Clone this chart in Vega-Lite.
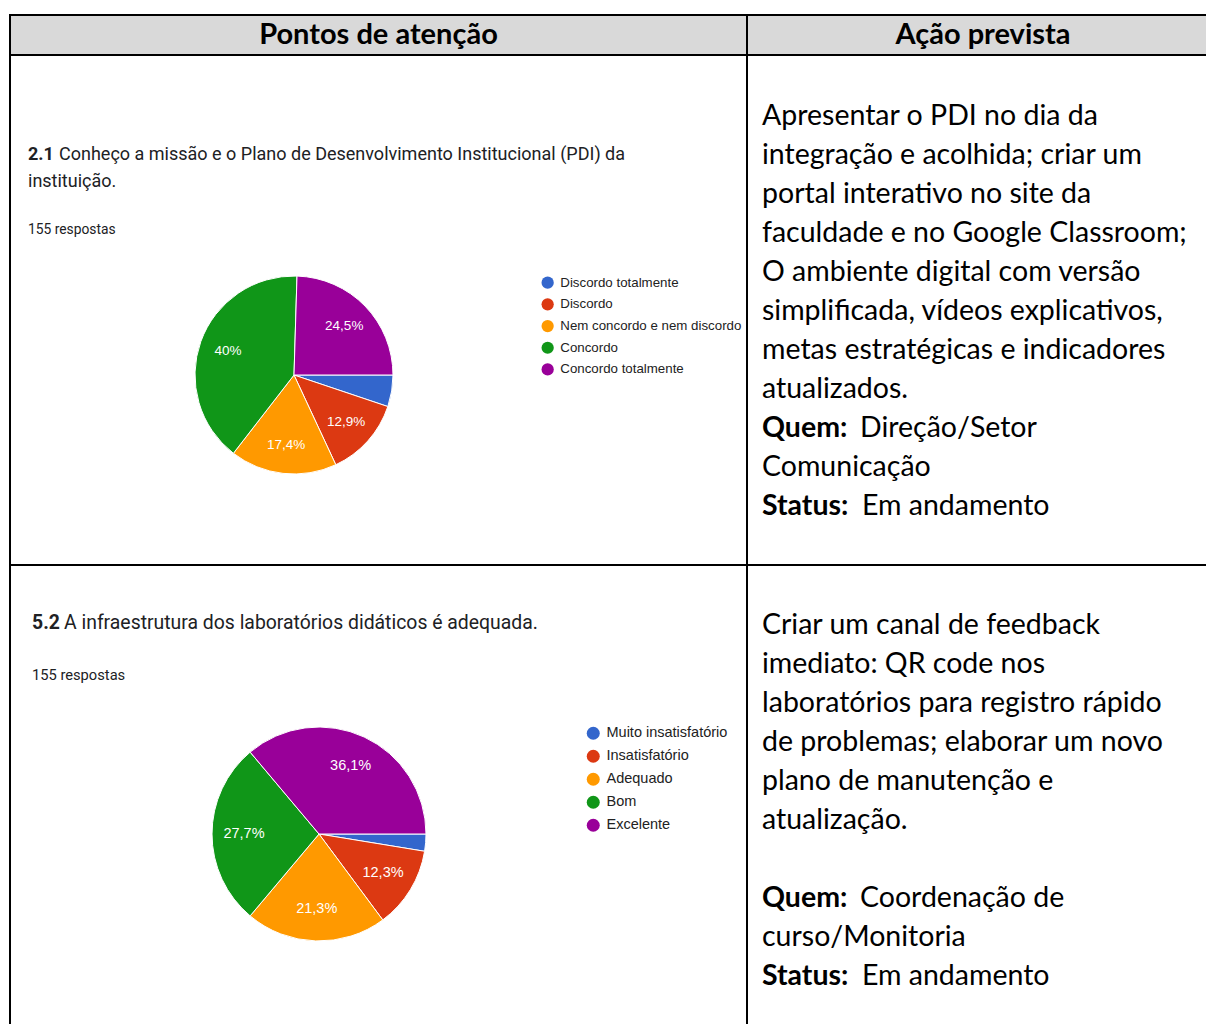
{
  "$schema": "https://vega.github.io/schema/vega-lite/v6.json",
  "padding": {"left": 9, "top": 14, "right": 0, "bottom": 0},
  "background": "white",
  "spacing": 0,
  "bounds": "flush",
  "columns": 2,
  "config": {
    "view": {"stroke": "#000000", "strokeWidth": 2},
    "concat": {"spacing": 0},
    "text": {"font": "Roboto"}
  },
  "resolve": {"scale": {"color": "independent", "theta": "independent", "y": "independent"}, "legend": {"color": "independent"}},
  "concat": [
    {
      "width": 737, "height": 40,
      "view": {"fill": "#d9d9d9", "stroke": "#000000", "strokeWidth": 2},
      "data": {"values": [{"t": "Pontos de atenção"}]},
      "mark": {"type": "text", "font": "Lato", "fontWeight": "bold", "fontSize": 29, "baseline": "middle", "align": "center", "color": "#000000"},
      "encoding": {"text": {"field": "t"}}
    },
    {
      "width": 472, "height": 40,
      "view": {"fill": "#d9d9d9", "stroke": "#000000", "strokeWidth": 2},
      "data": {"values": [{"t": "Ação prevista"}]},
      "mark": {"type": "text", "font": "Lato", "fontWeight": "bold", "fontSize": 29, "baseline": "middle", "align": "center", "color": "#000000"},
      "encoding": {"text": {"field": "t"}}
    },
    {
      "width": 737, "height": 510,
      "view": {"stroke": "#000000", "strokeWidth": 2},
      "layer": [
        {
          "data": {"values": [
            {"resposta": "Discordo totalmente", "n": 8, "ordem": 1, "rotulo": ""},
            {"resposta": "Discordo", "n": 20, "ordem": 2, "rotulo": "12,9%"},
            {"resposta": "Nem concordo e nem discordo", "n": 27, "ordem": 3, "rotulo": "17,4%"},
            {"resposta": "Concordo", "n": 62, "ordem": 4, "rotulo": "40%"},
            {"resposta": "Concordo totalmente", "n": 38, "ordem": 5, "rotulo": "24,5%"}
          ]},
          "layer": [
            {
              "mark": {"type": "arc", "outerRadius": 99, "x": 284, "y": 320, "stroke": "white", "strokeWidth": 1},
              "encoding": {
                "theta": {"field": "n", "type": "quantitative", "stack": true, "scale": {"range": [1.5708, 7.854]}},
                "order": {"field": "ordem", "type": "quantitative"},
                "color": {
                  "field": "resposta", "type": "nominal",
                  "scale": {"domain": ["Discordo totalmente", "Discordo", "Nem concordo e nem discordo", "Concordo", "Concordo totalmente"], "range": ["#3366cc", "#dc3912", "#ff9900", "#109618", "#990099"]},
                  "legend": {"orient": "none", "legendX": 531, "legendY": 221, "title": null, "symbolType": "circle", "symbolSize": 150, "symbolStrokeWidth": 0, "labelFont": "Liberation Sans", "labelFontSize": 13.3, "labelColor": "#222222", "rowPadding": 7.7, "labelOffset": 6, "padding": 0, "labelLimit": 300}
                }
              }
            },
            {
              "mark": {"type": "text", "radius": 70, "x": 284, "y": 320, "font": "Liberation Sans", "fontSize": 13.5, "fill": "white", "align": "center", "baseline": "middle"},
              "encoding": {
                "theta": {"field": "n", "type": "quantitative", "stack": true},
                "order": {"field": "ordem", "type": "quantitative"},
                "detail": {"field": "resposta", "type": "nominal"},
                "text": {"field": "rotulo"}
              }
            }
          ]
        },
        {
          "data": {"values": [{"t": "2.1"}]},
          "mark": {"type": "text", "x": 18, "y": 100, "fontSize": 18, "fontWeight": "bold", "align": "left", "baseline": "middle", "fill": "#202124"},
          "encoding": {"text": {"field": "t"}}
        },
        {
          "data": {"values": [{"t": "Conheço a missão e o Plano de Desenvolvimento Institucional (PDI) da"}]},
          "mark": {"type": "text", "x": 49, "y": 100, "fontSize": 18, "align": "left", "baseline": "middle", "fill": "#202124"},
          "encoding": {"text": {"field": "t"}}
        },
        {
          "data": {"values": [{"t": "instituição."}]},
          "mark": {"type": "text", "x": 18, "y": 127, "fontSize": 18, "align": "left", "baseline": "middle", "fill": "#202124"},
          "encoding": {"text": {"field": "t"}}
        },
        {
          "data": {"values": [{"t": "155 respostas"}]},
          "mark": {"type": "text", "x": 18, "y": 175, "fontSize": 13.8, "align": "left", "baseline": "middle", "fill": "#202124"},
          "encoding": {"text": {"field": "t"}}
        }
      ]
    },
    {
      "width": 472, "height": 510,
      "view": {"stroke": "#000000", "strokeWidth": 2},
      "layer": [
        {
          "data": {"values": [
            {"linha": 0, "t": "Apresentar o PDI no dia da"},
            {"linha": 1, "t": "integração e acolhida; criar um"},
            {"linha": 2, "t": "portal interativo no site da"},
            {"linha": 3, "t": "faculdade e no Google Classroom;"},
            {"linha": 4, "t": "O ambiente digital com versão"},
            {"linha": 5, "t": "simplificada, vídeos explicativos,"},
            {"linha": 6, "t": "metas estratégicas e indicadores"},
            {"linha": 7, "t": "atualizados."},
            {"linha": 9, "t": "Comunicação"}
          ]},
          "mark": {"type": "text", "x": 15, "font": "Lato", "fontSize": 28.5, "align": "left", "baseline": "middle", "fill": "#000000"},
          "encoding": {
            "y": {"field": "linha", "type": "quantitative", "scale": {"domain": [0, 10], "range": [61, 451]}, "axis": null},
            "text": {"field": "t"}
          }
        },
        {
          "data": {"values": [{"linha": 8, "t": "Quem:"}, {"linha": 10, "t": "Status:"}]},
          "mark": {"type": "text", "x": 15, "font": "Lato", "fontSize": 28.5, "fontWeight": "bold", "align": "left", "baseline": "middle", "fill": "#000000"},
          "encoding": {
            "y": {"field": "linha", "type": "quantitative", "axis": null},
            "text": {"field": "t"}
          }
        },
        {
          "data": {"values": [{"linha": 8, "t": "Direção/Setor"}]},
          "mark": {"type": "text", "x": 113, "font": "Lato", "fontSize": 28.5, "align": "left", "baseline": "middle", "fill": "#000000"},
          "encoding": {
            "y": {"field": "linha", "type": "quantitative", "axis": null},
            "text": {"field": "t"}
          }
        },
        {
          "data": {"values": [{"linha": 10, "t": "Em andamento"}]},
          "mark": {"type": "text", "x": 115, "font": "Lato", "fontSize": 28.5, "align": "left", "baseline": "middle", "fill": "#000000"},
          "encoding": {
            "y": {"field": "linha", "type": "quantitative", "axis": null},
            "text": {"field": "t"}
          }
        }
      ]
    },
    {
      "width": 737, "height": 470,
      "view": {"stroke": "#000000", "strokeWidth": 2},
      "layer": [
        {
          "data": {"values": [
            {"avaliacao": "Muito insatisfatório", "n": 4, "ordem": 1, "rotulo": ""},
            {"avaliacao": "Insatisfatório", "n": 19, "ordem": 2, "rotulo": "12,3%"},
            {"avaliacao": "Adequado", "n": 33, "ordem": 3, "rotulo": "21,3%"},
            {"avaliacao": "Bom", "n": 43, "ordem": 4, "rotulo": "27,7%"},
            {"avaliacao": "Excelente", "n": 56, "ordem": 5, "rotulo": "36,1%"}
          ]},
          "layer": [
            {
              "mark": {"type": "arc", "outerRadius": 107, "x": 309, "y": 269, "stroke": "white", "strokeWidth": 1},
              "encoding": {
                "theta": {"field": "n", "type": "quantitative", "stack": true, "scale": {"range": [1.5708, 7.854]}},
                "order": {"field": "ordem", "type": "quantitative"},
                "color": {
                  "field": "avaliacao", "type": "nominal",
                  "scale": {"domain": ["Muito insatisfatório", "Insatisfatório", "Adequado", "Bom", "Excelente"], "range": ["#3366cc", "#dc3912", "#ff9900", "#109618", "#990099"]},
                  "legend": {"orient": "none", "legendX": 576, "legendY": 161, "title": null, "symbolType": "circle", "symbolSize": 169, "symbolStrokeWidth": 0, "labelFont": "Liberation Sans", "labelFontSize": 14.5, "labelColor": "#222222", "rowPadding": 8, "labelOffset": 6, "padding": 0, "labelLimit": 300}
                }
              }
            },
            {
              "mark": {"type": "text", "radius": 75, "x": 309, "y": 269, "font": "Liberation Sans", "fontSize": 14.5, "fill": "white", "align": "center", "baseline": "middle"},
              "encoding": {
                "theta": {"field": "n", "type": "quantitative", "stack": true},
                "order": {"field": "ordem", "type": "quantitative"},
                "detail": {"field": "avaliacao", "type": "nominal"},
                "text": {"field": "rotulo"}
              }
            }
          ]
        },
        {
          "data": {"values": [{"t": "5.2"}]},
          "mark": {"type": "text", "x": 22, "y": 58, "fontSize": 19.4, "fontWeight": "bold", "align": "left", "baseline": "middle", "fill": "#202124"},
          "encoding": {"text": {"field": "t"}}
        },
        {
          "data": {"values": [{"t": "A infraestrutura dos laboratórios didáticos é adequada."}]},
          "mark": {"type": "text", "x": 54, "y": 58, "fontSize": 19.4, "align": "left", "baseline": "middle", "fill": "#202124"},
          "encoding": {"text": {"field": "t"}}
        },
        {
          "data": {"values": [{"t": "155 respostas"}]},
          "mark": {"type": "text", "x": 22, "y": 111, "fontSize": 14.7, "align": "left", "baseline": "middle", "fill": "#202124"},
          "encoding": {"text": {"field": "t"}}
        }
      ]
    },
    {
      "width": 472, "height": 470,
      "view": {"stroke": "#000000", "strokeWidth": 2},
      "layer": [
        {
          "data": {"values": [
            {"linha": 0, "t": "Criar um canal de feedback"},
            {"linha": 1, "t": "imediato: QR code nos"},
            {"linha": 2, "t": "laboratórios para registro rápido"},
            {"linha": 3, "t": "de problemas; elaborar um novo"},
            {"linha": 4, "t": "plano de manutenção e"},
            {"linha": 5, "t": "atualização."},
            {"linha": 8, "t": "curso/Monitoria"}
          ]},
          "mark": {"type": "text", "x": 15, "font": "Lato", "fontSize": 28.5, "align": "left", "baseline": "middle", "fill": "#000000"},
          "encoding": {
            "y": {"field": "linha", "type": "quantitative", "scale": {"domain": [0, 10], "range": [60, 450]}, "axis": null},
            "text": {"field": "t"}
          }
        },
        {
          "data": {"values": [{"linha": 7, "t": "Quem:"}, {"linha": 9, "t": "Status:"}]},
          "mark": {"type": "text", "x": 15, "font": "Lato", "fontSize": 28.5, "fontWeight": "bold", "align": "left", "baseline": "middle", "fill": "#000000"},
          "encoding": {
            "y": {"field": "linha", "type": "quantitative", "axis": null},
            "text": {"field": "t"}
          }
        },
        {
          "data": {"values": [{"linha": 7, "t": "Coordenação de"}]},
          "mark": {"type": "text", "x": 113, "font": "Lato", "fontSize": 28.5, "align": "left", "baseline": "middle", "fill": "#000000"},
          "encoding": {
            "y": {"field": "linha", "type": "quantitative", "axis": null},
            "text": {"field": "t"}
          }
        },
        {
          "data": {"values": [{"linha": 9, "t": "Em andamento"}]},
          "mark": {"type": "text", "x": 115, "font": "Lato", "fontSize": 28.5, "align": "left", "baseline": "middle", "fill": "#000000"},
          "encoding": {
            "y": {"field": "linha", "type": "quantitative", "axis": null},
            "text": {"field": "t"}
          }
        }
      ]
    }
  ]
}
